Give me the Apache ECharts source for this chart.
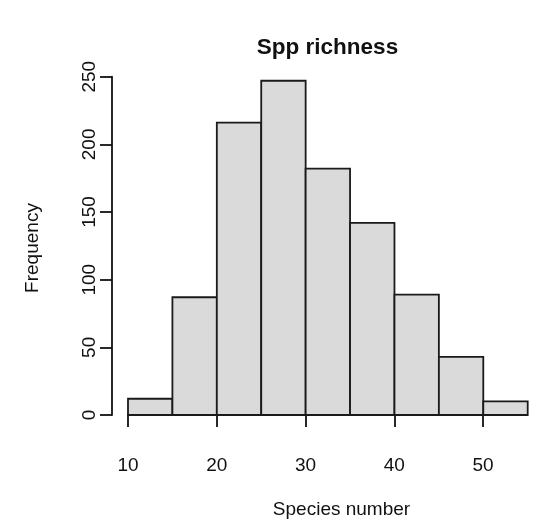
<!DOCTYPE html>
<html>
<head>
<meta charset="utf-8">
<script src="https://cdn.jsdelivr.net/npm/echarts@6/dist/echarts.min.js"></script>
<style>
  html, body { margin: 0; padding: 0; background: #fff; }
  #chart { width: 538px; height: 522px; }
</style>
</head>
<body>
<div id="chart"></div>
<script>
// Histogram of species richness: bin edges and counts per bin
var breaks = [10, 15, 20, 25, 30, 35, 40, 45, 50, 55];
var counts = [12, 87, 216, 247, 182, 142, 89, 43, 10];
var xTicks = [10, 20, 30, 40, 50];
var yTicks = [0, 50, 100, 150, 200, 250];

var FONT = '"Liberation Sans", Arial, Helvetica, sans-serif';

var bins = counts.map(function (c, i) { return [breaks[i], breaks[i + 1], c]; });

var chart = echarts.init(document.getElementById('chart'), null, { renderer: 'canvas' });

var gridTop = 76.7, gridBottom = 107;
var xMin = breaks[0], xMax = breaks[breaks.length - 1];

chart.setOption({
  animation: false,
  backgroundColor: '#ffffff',
  grid: [
    // plotting area for the bars
    { left: 128, right: 10.3, top: gridTop, bottom: gridBottom },
    // x axis drawn only across the labelled range
    { left: 128, width: 355, top: gridTop, bottom: gridBottom }
  ],
  xAxis: [
    { type: 'value', gridIndex: 0, min: xMin, max: xMax, show: false },
    {
      type: 'value', gridIndex: 1, min: xTicks[0], max: xTicks[xTicks.length - 1], interval: 10,
      position: 'bottom', offset: 14,
      axisLine: { show: true, lineStyle: { color: '#111', width: 1.8 } },
      axisTick: { show: true, length: 12, lineStyle: { color: '#111', width: 1.8 } },
      axisLabel: { show: true, margin: 27, color: '#111', fontSize: 19, fontFamily: FONT },
      splitLine: { show: false }
    }
  ],
  yAxis: [
    {
      type: 'value', gridIndex: 0, min: yTicks[0], max: yTicks[yTicks.length - 1], interval: 50,
      position: 'left', offset: 16,
      axisLine: { show: true, lineStyle: { color: '#111', width: 1.8 } },
      axisTick: { show: true, length: 12, lineStyle: { color: '#111', width: 1.8 } },
      axisLabel: { show: true, rotate: 90, margin: 13, color: '#111', fontSize: 19, fontFamily: FONT },
      splitLine: { show: false }
    },
    { type: 'value', gridIndex: 1, min: 0, max: 250, show: false }
  ],
  graphic: [
    {
      type: 'text', x: 327.5, y: 36,
      style: { text: 'Spp richness', font: 'bold 22.5px ' + FONT, fill: '#111', textAlign: 'center' }
    },
    {
      type: 'text', x: 341.5, y: 500,
      style: { text: 'Species number', font: '19px ' + FONT, fill: '#111', textAlign: 'center' }
    },
    {
      type: 'text', x: 33, y: 248, rotation: Math.PI / 2,
      style: { text: 'Frequency', font: '19px ' + FONT, fill: '#111', textAlign: 'center', textVerticalAlign: 'middle' }
    }
  ],
  series: [
    {
      type: 'custom',
      xAxisIndex: 0, yAxisIndex: 0,
      data: bins,
      encode: { x: [0, 1], y: 2 },
      renderItem: function (params, api) {
        var topLeft = api.coord([api.value(0), api.value(2)]);
        var bottomRight = api.coord([api.value(1), 0]);
        return {
          type: 'rect',
          shape: {
            x: topLeft[0], y: topLeft[1],
            width: bottomRight[0] - topLeft[0],
            height: bottomRight[1] - topLeft[1]
          },
          style: { fill: '#dadada', stroke: '#1a1a1a', lineWidth: 1.8 }
        };
      }
    }
  ]
});
</script>
</body>
</html>
